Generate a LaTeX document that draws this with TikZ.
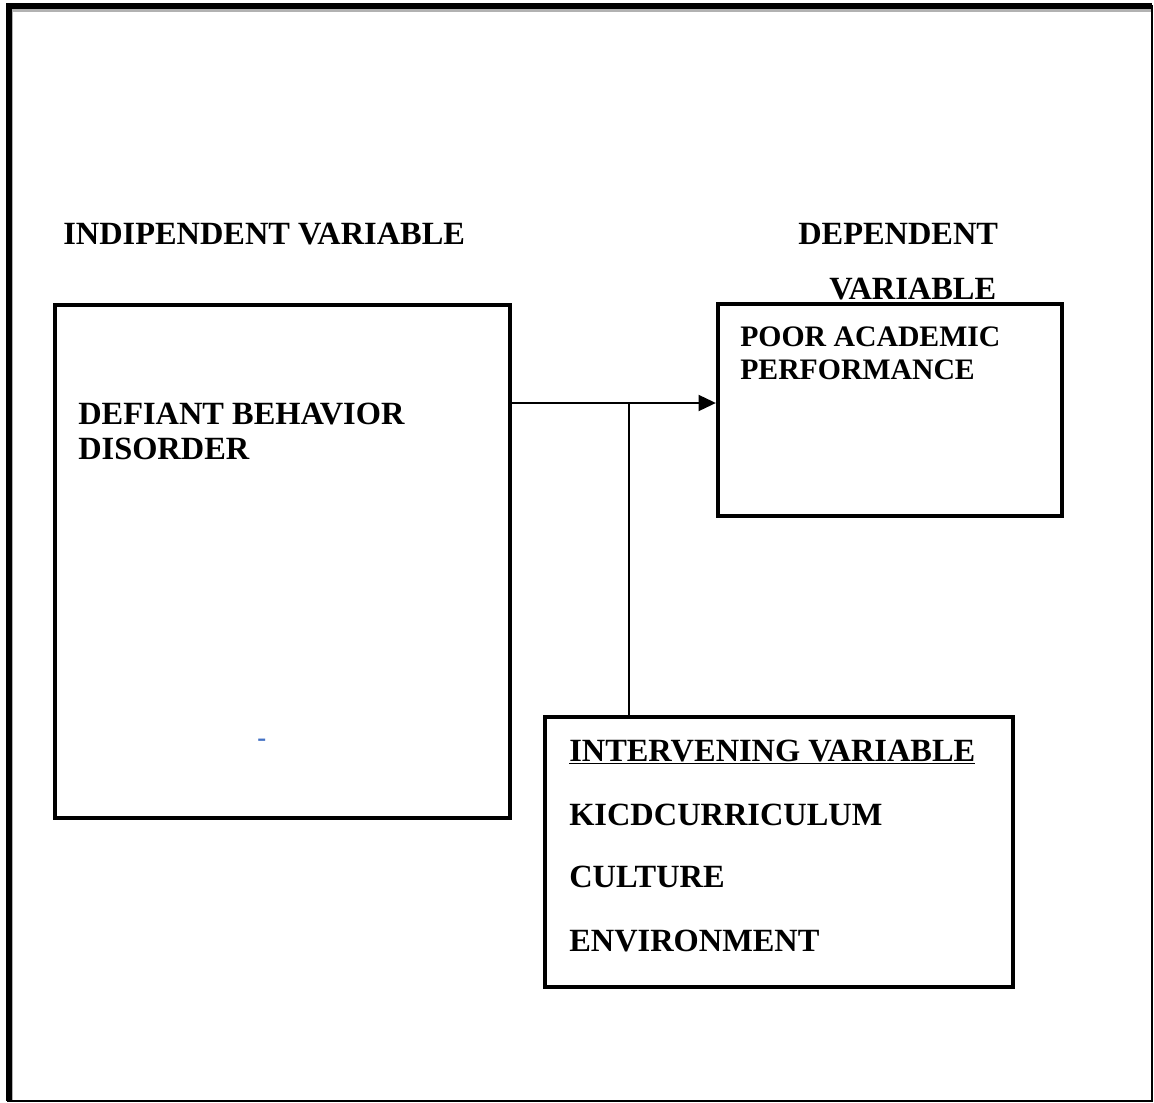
\documentclass[tikz,border=0pt]{standalone}
\usepackage{fontspec}
\setmainfont{Liberation Serif}
\usetikzlibrary{arrows.meta}
\begin{document}
\begin{tikzpicture}[x=0.75pt,y=-0.75pt,
  lbl/.style={anchor=base west,inner sep=0pt,font=\fontsize{24.3}{28}\selectfont\bfseries},
  slbl/.style={anchor=base west,inner sep=0pt,font=\fontsize{22.3}{26}\selectfont\bfseries},
  vbox/.style={draw,line width=3.2pt,inner sep=0pt},
  conn/.style={line width=1.5pt}]
\useasboundingbox (0,0) rectangle (1154,1103);
% outer frame
\draw[line width=3pt,gray!60] (9,10) -- (1151,10);
\draw[line width=2pt,gray!60] (12,8) -- (12,1100);
\draw[line width=2pt] (7,1101) -- (1152,1101) -- (1152,5);
\draw[line width=4pt] (1152,6) -- (9,6) -- (9,1101);
% boxes
\node[vbox,minimum width=341.25pt,minimum height=384.75pt] (iv) at (282.5,561.5) {};
\node[vbox,minimum width=258pt,minimum height=159pt] (dv) at (890,410) {};
\node[vbox,minimum width=351pt,minimum height=202.5pt] (mv) at (779,852) {};
% connectors
\coordinate (j) at (629,403);
\draw[conn,-{Triangle[length=13pt,width=12pt]}] (iv.east |- j) -- (dv.west |- j);
\draw[conn] (j) -- (j |- mv.north);
% labels
\node[lbl] (t1) at (63,244) {INDIPENDENT VARIABLE};
\node[lbl] (t2) at (798,244) {DEPENDENT};
\node[lbl] (t3) at (829,299) {VARIABLE};
\node[slbl] (t4) at (740,346) {POOR ACADEMIC};
\node[slbl] (t5) at (740,379) {PERFORMANCE};
\node[lbl] (t6) at (78,424) {DEFIANT BEHAVIOR};
\node[lbl] (t7) at (78,459) {DISORDER};
\node[lbl] (t8) at (569,761) {\underline{INTERVENING VARIABLE}};
\node[lbl] (t9) at (569,825) {KICDCURRICULUM};
\node[lbl] (t10) at (569,887) {CULTURE};
\node[lbl] (t11) at (569,951) {ENVIRONMENT};
\node[anchor=base west,inner sep=0pt,text={rgb,255:red,68;green,114;blue,196},font=\fontsize{20}{22}\selectfont\bfseries] (dash) at (257,746) {-};
\end{tikzpicture}
\end{document}
